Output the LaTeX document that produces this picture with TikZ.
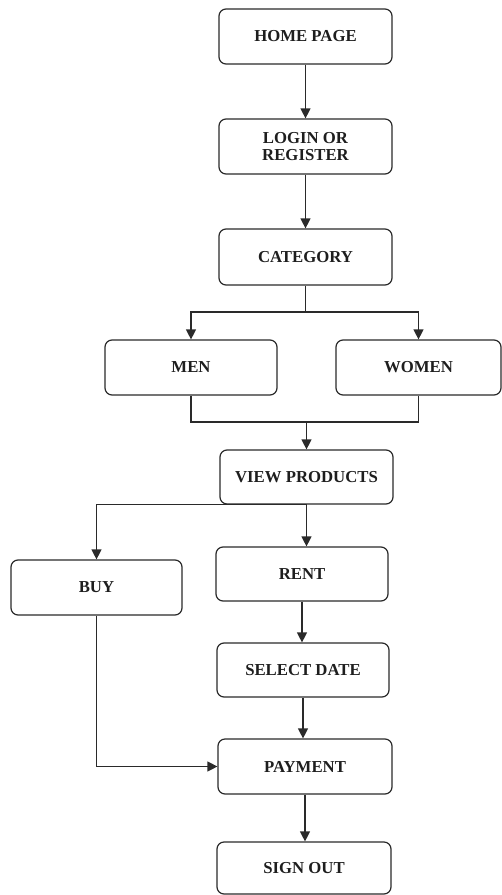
\documentclass[tikz,border=0pt]{standalone}
\usepackage{fontspec}
\setmainfont{Liberation Serif}
\usetikzlibrary{arrows.meta}
\definecolor{ln}{HTML}{2A2A2A}
\definecolor{tx}{HTML}{1E1E1E}
\tikzset{
  box/.style={draw=ln, line width=1.2bp, rounded corners=7bp, fill=white,
    minimum width=#1, minimum height=55bp, inner sep=0pt, align=center,
    text=tx, font=\fontsize{16.8}{17.5}\selectfont\bfseries},
  box/.default=173bp,
  conn/.style={draw=ln, line width=1.2bp},
  arr/.style={conn, -{Triangle[length=10bp,width=10bp]}}
}
\begin{document}
\begin{tikzpicture}[x=1bp,y=-1bp]
\useasboundingbox (0,0) rectangle (502,895);
\node[box] (home) at (305.5,36.5) {HOME PAGE};
\node[box] (login) at (305.5,146.5) {LOGIN OR\\[-1bp]REGISTER};
\node[box, minimum height=56bp] (cat) at (305.5,257) {CATEGORY};
\node[box=172bp] (men) at (191,367.5) {MEN};
\node[box=165bp] (women) at (418.5,367.5) {WOMEN};
\node[box, minimum height=54bp] (view) at (306.5,477) {VIEW PRODUCTS};
\node[box=171bp] (buy) at (96.5,587.5) {BUY};
\node[box=172bp, minimum height=54bp] (rent) at (302,574) {RENT};
\node[box=172bp, minimum height=54bp] (select) at (303,670) {SELECT DATE};
\node[box=174bp] (pay) at (305,766.5) {PAYMENT};
\node[box=174bp, minimum height=52bp] (sign) at (304,868) {SIGN OUT};

\coordinate (fork) at (305.5,312);
\coordinate (merge) at (306.5,422);

\draw[conn] (cat.south) -- (fork);
\draw[arr] (home) -- (login);
\draw[arr] (login) -- (cat);
\draw[arr] (fork) -| (men.north);
\draw[arr] (fork) -| (women.north);
\draw[conn] (men.south) |- (merge) -| (women.south);
\draw[arr] (merge) -- (view.north);
\draw[arr] (view.south) -| (buy.north);
\draw[arr] (view.south) -- (view.south |- rent.north);
\draw[arr] (rent.south) -- (rent.south |- select.north);
\draw[arr] (select.south) -- (select.south |- pay.north);
\draw[arr] (buy.south) |- (pay.west);
\draw[arr] (pay.south) -- (pay.south |- sign.north);
\end{tikzpicture}
\end{document}
